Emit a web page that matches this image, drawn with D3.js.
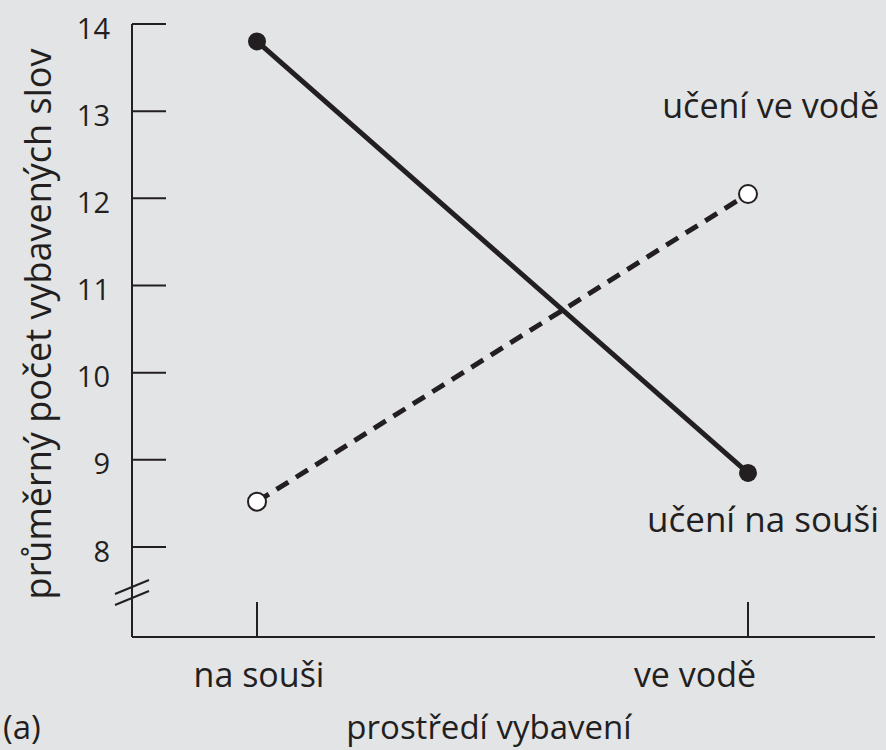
<!DOCTYPE html>
<meta charset="utf-8">
<style>
body {
  margin: 0;
  background: #e3e4e6;
}
svg text {
  font-family: 'Open Sans', sans-serif;
  fill: #231f20;
}
.axis line {
  stroke: #231f20;
  stroke-width: 2;
  fill: none;
}
</style>
<body>
<svg width="886" height="750"></svg>
<script src="https://cdn.jsdelivr.net/npm/d3@7"></script>
<script>

// data
var categories = ["na souši", "ve vodě"];
var learnedOnLand = [13.8, 8.85];   // učení na souši
var learnedInWater = [8.52, 12.05]; // učení ve vodě
var yTicks = [8, 9, 10, 11, 12, 13, 14];

var svg = d3.select("svg"),
    width = +svg.attr("width"),
    height = +svg.attr("height");

var x = d3.scalePoint()
    .domain(categories)
    .range([257, 748]);

var y = d3.scaleLinear()
    .domain([8, 14])
    .range([547, 24]);

var axisX = 132, axisBottom = 637;

// y axis (ticks point inward), with a break below 8
var gy = svg.append("g").attr("class", "axis");
gy.append("line")
    .attr("x1", axisX).attr("x2", axisX)
    .attr("y1", y(14)).attr("y2", axisBottom);
gy.selectAll(".tick")
    .data(yTicks)
    .enter().append("line")
    .attr("x1", axisX).attr("x2", axisX + 34)
    .attr("y1", function(d) { return y(d); })
    .attr("y2", function(d) { return y(d); });
gy.selectAll(".ticklabel")
    .data(yTicks)
    .enter().append("text")
    .attr("x", axisX - 22)
    .attr("y", function(d) { return y(d); })
    .attr("dy", "0.5em")
    .attr("text-anchor", "end")
    .style("font-size", "29px")
    .text(function(d) { return d; });

// break marks
[0, 11].forEach(function(off) {
  gy.append("line")
    .attr("x1", axisX - 17).attr("y1", 594 + off)
    .attr("x2", axisX + 17).attr("y2", 580 + off);
});

// x axis
var gx = svg.append("g").attr("class", "axis");
gx.append("line")
    .attr("x1", axisX).attr("x2", 875)
    .attr("y1", axisBottom).attr("y2", axisBottom);
gx.selectAll(".tick")
    .data(categories)
    .enter().append("line")
    .attr("x1", function(d) { return x(d); })
    .attr("x2", function(d) { return x(d); })
    .attr("y1", axisBottom).attr("y2", axisBottom - 35);
gx.selectAll(".ticklabel")
    .data(categories)
    .enter().append("text")
    .attr("x", function(d, i) { return i == 0 ? x(d) + 2 : x(d) - 53; })
    .attr("y", 687)
    .attr("text-anchor", "middle")
    .style("font-size", "34px")
    .text(function(d) { return d; });

// axis titles
svg.append("text")
    .attr("transform", "translate(51," + 324 + ") rotate(-90)")
    .attr("text-anchor", "middle")
    .style("font-size", "36px")
    .text("průměrný počet vybavených slov");

svg.append("text")
    .attr("x", 489)
    .attr("y", 739)
    .attr("text-anchor", "middle")
    .style("font-size", "33px")
    .text("prostředí vybavení");

svg.append("text")
    .attr("x", 3)
    .attr("y", 739)
    .style("font-size", "33px")
    .text("(a)");

// lines
var line = d3.line()
    .x(function(d, i) { return x(categories[i]); })
    .y(function(d) { return y(d); });

svg.append("path")
    .datum(learnedInWater)
    .attr("d", line)
    .attr("fill", "none")
    .attr("stroke", "#231f20")
    .attr("stroke-width", 5)
    .attr("stroke-dasharray", "14,9");

svg.append("path")
    .datum(learnedOnLand)
    .attr("d", line)
    .attr("fill", "none")
    .attr("stroke", "#231f20")
    .attr("stroke-width", 5);

svg.selectAll(".dotLand")
    .data(learnedOnLand)
    .enter().append("circle")
    .attr("cx", function(d, i) { return x(categories[i]); })
    .attr("cy", function(d) { return y(d); })
    .attr("r", 9)
    .attr("fill", "#231f20");

svg.selectAll(".dotWater")
    .data(learnedInWater)
    .enter().append("circle")
    .attr("cx", function(d, i) { return x(categories[i]); })
    .attr("cy", function(d) { return y(d); })
    .attr("r", 9)
    .attr("fill", "#fff")
    .attr("stroke", "#231f20")
    .attr("stroke-width", 2);

// series labels
svg.append("text")
    .attr("x", 879)
    .attr("y", 118)
    .attr("text-anchor", "end")
    .style("font-size", "34px")
    .text("učení ve vodě");

svg.append("text")
    .attr("x", 879)
    .attr("y", 532)
    .attr("text-anchor", "end")
    .style("font-size", "35px")
    .text("učení na souši");

</script>
</body>
</html>
